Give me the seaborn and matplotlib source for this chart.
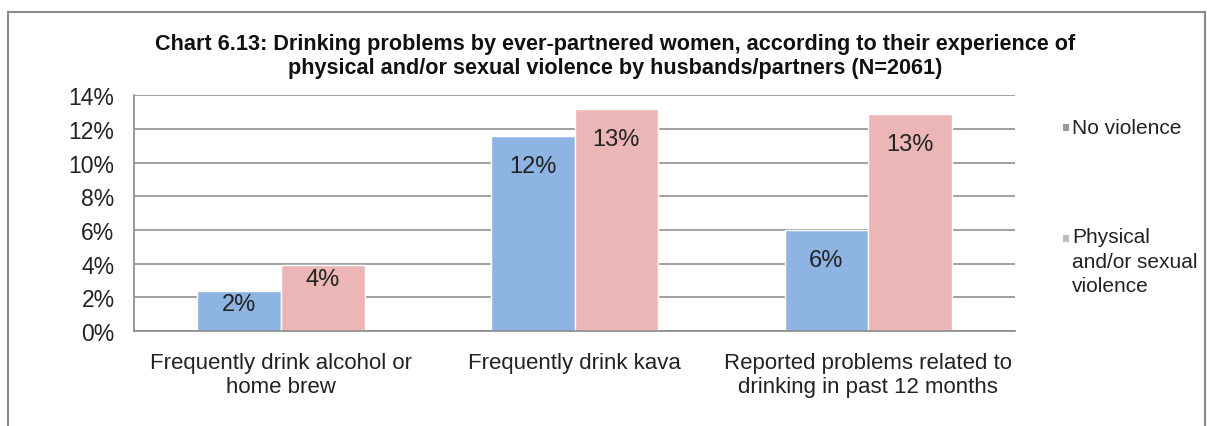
import matplotlib
matplotlib.use("Agg")
import matplotlib.pyplot as plt
import seaborn as sns
import pandas as pd
from matplotlib.patches import Rectangle

categories = [
    "Frequently drink alcohol or\nhome brew",
    "Frequently drink kava",
    "Reported problems related to\ndrinking in past 12 months",
]
series_names = ["No violence", "Physical\nand/or sexual\nviolence"]
no_violence = [2.4, 11.6, 6.0]
physical_sexual = [3.9, 13.2, 12.9]
yticks = [0, 2, 4, 6, 8, 10, 12, 14]

df = pd.DataFrame({
    "category": categories * 2,
    "group": [series_names[0]] * 3 + [series_names[1]] * 3,
    "value": no_violence + physical_sexual,
})

sns.set_theme(style="white")
plt.rcParams["font.family"] = ["Liberation Sans", "DejaVu Sans"]

fig = plt.figure(figsize=(12.07, 4.27), dpi=100)
ax = fig.add_axes([0.111, 0.222, 0.73, 0.553])

palette = ["#8EB4E3", "#EDB6B6"]
sns.barplot(data=df, x="category", y="value", hue="group", palette=palette,
            width=0.57, ax=ax, legend=False, saturation=1)

ax.set_ylim(0, 14)
ax.set_xlim(-0.5, 2.5)
ax.set_yticks(yticks)
ax.set_yticklabels([f"{t}%" for t in yticks], fontsize=16.5, color="#222222")
ax.tick_params(axis="x", labelsize=16, colors="#222222", length=0, pad=15)
ax.tick_params(axis="y", length=0, pad=14)
ax.set_xlabel("")
ax.set_ylabel("")
ax.set_axisbelow(True)
ax.yaxis.grid(True, color="#8f8f8f", linewidth=1.2)
ax.spines["top"].set_visible(False)
ax.spines["right"].set_visible(False)
for side in ("left", "bottom"):
    ax.spines[side].set_color("#8a8a8a")
    ax.spines[side].set_linewidth(1.2)

for container, vals in zip(ax.containers, [no_violence, physical_sexual]):
    for bar, v in zip(container, vals):
        offset = 1.8 if v > 5 else 0.8
        ax.text(bar.get_x() + bar.get_width() / 2, v - offset,
                f"{round(v):.0f}%", ha="center", va="center", fontsize=17,
                color="#222222")

fig.text(0.51, 0.868,
         "Chart 6.13: Drinking problems by ever-partnered women, according to their experience of\n"
         "physical and/or sexual violence by husbands/partners (N=2061)",
         ha="center", va="center", fontsize=15.6, fontweight="bold",
         color="#111111", linespacing=1.2)

# legend entries
fig.patches.append(Rectangle((0.8805, 0.692), 0.005, 0.016, transform=fig.transFigure,
                             facecolor="#9a9a9a", edgecolor="none"))
fig.text(0.888, 0.70, series_names[0], fontsize=15, va="center", color="#222222")
fig.patches.append(Rectangle((0.8805, 0.432), 0.005, 0.016, transform=fig.transFigure,
                             facecolor="#bdbdbd", edgecolor="none"))
fig.text(0.888, 0.465, series_names[1], fontsize=15, va="top", color="#222222",
         linespacing=1.35)

# outer frame
fig.patches.append(Rectangle((0.007, -0.05), 0.991, 1.02, transform=fig.transFigure,
                             facecolor="none", edgecolor="#8a8a8a", linewidth=1.5))

fig.savefig("out.png", dpi=100, facecolor="white")
